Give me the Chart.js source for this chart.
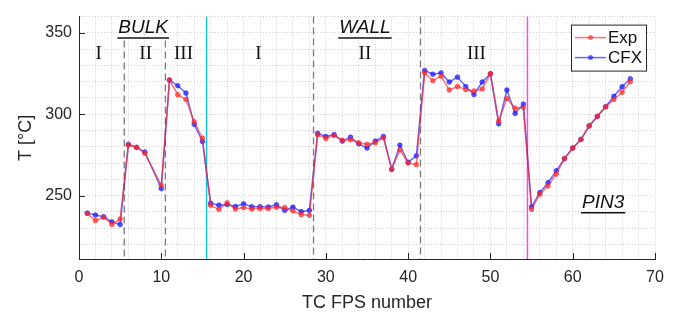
<!DOCTYPE html>
<html>
<head>
<meta charset="utf-8">
<script src="https://cdn.jsdelivr.net/npm/chart.js@4.4.0/dist/chart.umd.min.js"></script>
<style>
  html, body { margin: 0; padding: 0; background: #fff; }
  canvas { display: block; }
</style>
</head>
<body>
<canvas id="chart" width="680" height="317"></canvas>
<script>
// TC FPS numbers 1..67 (no reading for 9)
const fpsNumbers = [];
for (let i = 1; i <= 67; i++) fpsNumbers.push(i);

const expValues = [
  239, 234.6, 236.7, 232.2, 235.6, 281, 279.6, 276, null, 256.3,
  321, 312, 309, 295.4, 285.3, 244, 241.5, 245.5, 241.7, 242.6,
  241.7, 242, 242, 242.8, 242.6, 240.5, 238.3, 237.8, 287.3, 285.1,
  287, 284, 284.3, 282.4, 281.5, 282.4, 285.5, 266, 278, 270,
  269, 325.4, 320.6, 323.4, 314.9, 317, 315.1, 314.3, 315.5, 325,
  295.8, 309.6, 303.7, 304.2, 241.5, 250.8, 255.9, 263.2, 272.7, 279.2,
  284.5, 292.8, 298.7, 304.6, 309, 313.5, 320
];
const cfxValues = [
  239.2, 238, 237, 233.8, 232.2, 281.5, 279.6, 276.8, null, 254.3,
  321, 317.5, 313, 293.8, 283.3, 245.3, 244.1, 244.5, 243.3, 244.9,
  243.1, 243.1, 243, 244.3, 240.9, 242.9, 240.1, 240.9, 288.3, 286.3,
  287.5, 283.5, 285.9, 281.8, 279.2, 283.5, 286.3, 266.2, 281, 270.5,
  274.4, 326.9, 324.6, 325.4, 319.8, 322.8, 317, 312.1, 319.8, 324.8,
  294.2, 314.9, 300.5, 306.2, 243.1, 251.8, 257.9, 265.2, 272.7, 279.2,
  284.5, 292.8, 298.7, 304.6, 311, 316.9, 321.8
];

const xTicks = [];
for (let v = 0; v <= 70; v += 2) xTicks.push(v);
const yTicks = [];
for (let v = 220; v <= 360; v += 10) yTicks.push(v);
const xLabelTicks = [0, 10, 20, 30, 40, 50, 60, 70];
const yLabelTicks = [250, 300, 350];

// region boundaries
const dashedLines = [
  { x: 5.5, top: 345.3 },
  { x: 10.5, top: 345.3 },
  { x: 28.5, top: 360 },
  { x: 41.5, top: 360 }
];
const solidLines = [
  { x: 15.5, color: '#10c8e6' },
  { x: 54.5, color: '#ff44f0' }
];
const groupTitles = [
  { text: 'BULK', x: 7.8, y: 353 },
  { text: 'WALL', x: 34.75, y: 353 },
  { text: 'PIN3', x: 63.7, y: 245.5 }
];
const romanLabels = [
  { text: 'I', x: 2.4, y: 337 },
  { text: 'II', x: 8.1, y: 337 },
  { text: 'III', x: 12.7, y: 337 },
  { text: 'I', x: 21.8, y: 337 },
  { text: 'II', x: 34.75, y: 337 },
  { text: 'III', x: 48.3, y: 337 }
];

const expColor = 'rgba(255, 40, 40, 0.65)';
const cfxColor = 'rgba(20, 20, 255, 0.65)';
const axisColor = '#262626';
const gridColor = '#cfcfcf';

const toPoints = (vals) => fpsNumbers.map((n, i) => ({ x: n, y: vals[i] }));

const overlay = {
  id: 'overlay',
  beforeDatasetsDraw(chart) {
    const { ctx, chartArea, scales: { x, y } } = chart;
    ctx.save();
    // inward tick marks
    ctx.strokeStyle = axisColor;
    ctx.lineWidth = 1;
    ctx.beginPath();
    yLabelTicks.forEach(v => {
      const py = Math.round(y.getPixelForValue(v)) + 0.5;
      ctx.moveTo(chartArea.left, py);
      ctx.lineTo(chartArea.left + 6, py);
    });
    xLabelTicks.forEach(v => {
      const px = Math.round(x.getPixelForValue(v)) + 0.5;
      ctx.moveTo(px, chartArea.bottom);
      ctx.lineTo(px, chartArea.bottom - 6);
    });
    ctx.stroke();
    // dashed region lines
    ctx.strokeStyle = '#7a7a7a';
    ctx.lineWidth = 1.3;
    ctx.setLineDash([7, 4]);
    dashedLines.forEach(l => {
      const px = x.getPixelForValue(l.x);
      ctx.beginPath();
      ctx.moveTo(px, y.getPixelForValue(l.top));
      ctx.lineTo(px, chartArea.bottom);
      ctx.stroke();
    });
    ctx.setLineDash([]);
    solidLines.forEach(l => {
      const px = x.getPixelForValue(l.x);
      ctx.strokeStyle = l.color;
      ctx.lineWidth = 1.5;
      ctx.beginPath();
      ctx.moveTo(px, chartArea.top);
      ctx.lineTo(px, chartArea.bottom);
      ctx.stroke();
    });
    ctx.restore();
  },
  afterDatasetsDraw(chart) {
    const { ctx, chartArea, scales: { x, y } } = chart;
    ctx.save();
    ctx.fillStyle = '#111';
    ctx.textAlign = 'center';
    ctx.textBaseline = 'middle';
    // roman numerals
    ctx.font = '19px "Liberation Serif", "DejaVu Serif", serif';
    romanLabels.forEach(r => {
      ctx.fillText(r.text, x.getPixelForValue(r.x), y.getPixelForValue(r.y));
    });
    // group titles, italic and underlined
    ctx.font = 'italic 19px "Liberation Sans", Arial, sans-serif';
    ctx.strokeStyle = '#111';
    ctx.lineWidth = 1.5;
    groupTitles.forEach(g => {
      const px = x.getPixelForValue(g.x);
      const py = y.getPixelForValue(g.y);
      ctx.fillText(g.text, px, py);
      const w = ctx.measureText(g.text).width;
      ctx.beginPath();
      ctx.moveTo(px - w / 2 - 1, py + 10);
      ctx.lineTo(px + w / 2 + 1, py + 10);
      ctx.stroke();
    });
    // legend box
    const bx = chartArea.right - 84, by = chartArea.top + 8, bw = 75, bh = 46;
    ctx.fillStyle = '#fff';
    ctx.fillRect(bx, by, bw, bh);
    ctx.strokeStyle = axisColor;
    ctx.lineWidth = 1;
    ctx.strokeRect(bx + 0.5, by + 0.5, bw, bh);
    const items = [
      { label: 'Exp', color: expColor, cy: by + 13 },
      { label: 'CFX', color: cfxColor, cy: by + 33 }
    ];
    items.forEach(it => {
      ctx.strokeStyle = it.color;
      ctx.lineWidth = 1.5;
      ctx.beginPath();
      ctx.moveTo(bx + 4, it.cy);
      ctx.lineTo(bx + 35, it.cy);
      ctx.stroke();
      ctx.fillStyle = it.color;
      ctx.beginPath();
      ctx.arc(bx + 19.5, it.cy, 2.5, 0, Math.PI * 2);
      ctx.fill();
      ctx.fillStyle = '#111';
      ctx.textAlign = 'left';
      ctx.font = '17px "Liberation Sans", Arial, sans-serif';
      ctx.fillText(it.label, bx + 37, it.cy + 1);
    });
    ctx.restore();
  }
};

const ctx = document.querySelector('#chart').getContext('2d');

new Chart(ctx, {
  type: 'line',
  data: {
    datasets: [
      {
        label: 'Exp',
        data: toPoints(expValues),
        borderColor: expColor,
        backgroundColor: expColor,
        borderWidth: 1.5,
        pointRadius: 2.3,
        pointHoverRadius: 2.3,
        pointBorderWidth: 1,
        spanGaps: true,
        tension: 0
      },
      {
        label: 'CFX',
        data: toPoints(cfxValues),
        borderColor: cfxColor,
        backgroundColor: cfxColor,
        borderWidth: 1.5,
        pointRadius: 2.3,
        pointHoverRadius: 2.3,
        pointBorderWidth: 1,
        spanGaps: true,
        tension: 0
      }
    ]
  },
  options: {
    responsive: false,
    animation: false,
    layout: { padding: { top: 8, right: 25, left: 0, bottom: 0 } },
    plugins: {
      legend: { display: false },
      tooltip: { enabled: false }
    },
    scales: {
      x: {
        type: 'linear',
        min: 0,
        max: 70,
        afterBuildTicks: (s) => { s.ticks = xTicks.map(v => ({ value: v })); },
        afterFit: (s) => { s.height = 58; },
        grid: {
          color: gridColor,
          lineWidth: 1,
          drawTicks: false
        },
        border: { display: true, color: axisColor, width: 1, dash: [1, 2] },
        ticks: {
          autoSkip: false,
          maxRotation: 0,
          padding: 9,
          color: axisColor,
          font: { family: '"Liberation Sans", Arial, sans-serif', size: 16 },
          callback: (v) => (v % 10 === 0 ? String(v) : '')
        },
        title: {
          display: true,
          text: 'TC FPS number',
          color: axisColor,
          font: { family: '"Liberation Sans", Arial, sans-serif', size: 18 },
          padding: { top: 0, bottom: 3 }
        }
      },
      y: {
        type: 'linear',
        min: 211,
        max: 360,
        afterBuildTicks: (s) => { s.ticks = yTicks.map(v => ({ value: v })); },
        afterFit: (s) => { s.width = 79; },
        grid: {
          color: gridColor,
          lineWidth: 1,
          drawTicks: false
        },
        border: { display: true, color: axisColor, width: 1, dash: [1, 2] },
        ticks: {
          autoSkip: false,
          padding: 7,
          color: axisColor,
          font: { family: '"Liberation Sans", Arial, sans-serif', size: 16 },
          callback: (v) => (v % 50 === 0 ? String(v) : '')
        },
        title: {
          display: true,
          text: 'T [°C]',
          color: axisColor,
          font: { family: '"Liberation Sans", Arial, sans-serif', size: 18 },
          padding: { top: 15, bottom: 0 }
        }
      }
    }
  },
  plugins: [overlay]
});
</script>
</body>
</html>
